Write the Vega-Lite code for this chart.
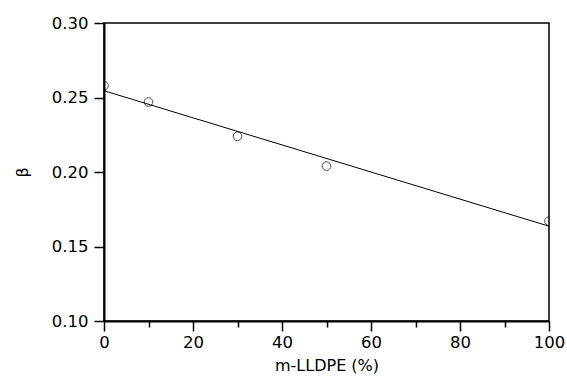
{
  "$schema": "https://vega.github.io/schema/vega-lite/v6.json",
  "width": 445,
  "height": 298,
  "autosize": {"type": "none"},
  "padding": {"left": 104, "top": 23, "right": 18, "bottom": 64},
  "background": "white",
  "config": {
    "view": {"stroke": "black", "strokeWidth": 1.5},
    "axis": {
      "labelFont": "DejaVu Sans",
      "labelFontSize": 16.5,
      "labelColor": "black",
      "titleFont": "DejaVu Sans",
      "titleFontSize": 16,
      "titleFontWeight": "normal",
      "titleColor": "black",
      "domainColor": "black",
      "domainWidth": 2,
      "tickColor": "black",
      "tickWidth": 1.5,
      "grid": false
    }
  },
  "data": {
    "values": [
      {"x": 0, "y": 0.258},
      {"x": 10, "y": 0.247},
      {"x": 30, "y": 0.224},
      {"x": 50, "y": 0.204},
      {"x": 100, "y": 0.167}
    ]
  },
  "layer": [
    {
      "mark": {"type": "point", "shape": "circle", "filled": false, "color": "black", "strokeWidth": 1, "size": 75, "clip": true},
      "encoding": {
        "x": {
          "field": "x", "type": "quantitative",
          "scale": {"domain": [0, 100], "nice": false, "zero": false},
          "axis": {
            "title": "m-LLDPE (%)",
            "values": [0, 10, 20, 30, 40, 50, 60, 70, 80, 90, 100],
            "labelExpr": "datum.value % 20 === 0 ? datum.label : ''",
            "tickSize": {"condition": {"test": "datum.value % 20 === 0", "value": 10}, "value": 6},
            "labelPadding": 3,
            "labelFlush": false,
            "titlePadding": 7
          }
        },
        "y": {
          "field": "y", "type": "quantitative",
          "scale": {"domain": [0.1, 0.3], "nice": false, "zero": false},
          "axis": {
            "title": "β",
            "values": [0.1, 0.125, 0.15, 0.175, 0.2, 0.225, 0.25, 0.275, 0.3],
            "format": ".2f",
            "labelExpr": "round(datum.value * 1000) % 50 === 0 ? datum.label : ''",
            "tickSize": {"condition": {"test": "round(datum.value * 1000) % 50 === 0", "value": 10}, "value": 6},
            "labelPadding": 6,
            "labelFlush": false,
            "titlePadding": 21
          }
        }
      }
    },
    {
      "transform": [{"regression": "y", "on": "x", "extent": [0, 100]}],
      "mark": {"type": "line", "color": "black", "strokeWidth": 1, "clip": true},
      "encoding": {
        "x": {"field": "x", "type": "quantitative"},
        "y": {"field": "y", "type": "quantitative"}
      }
    }
  ]
}
